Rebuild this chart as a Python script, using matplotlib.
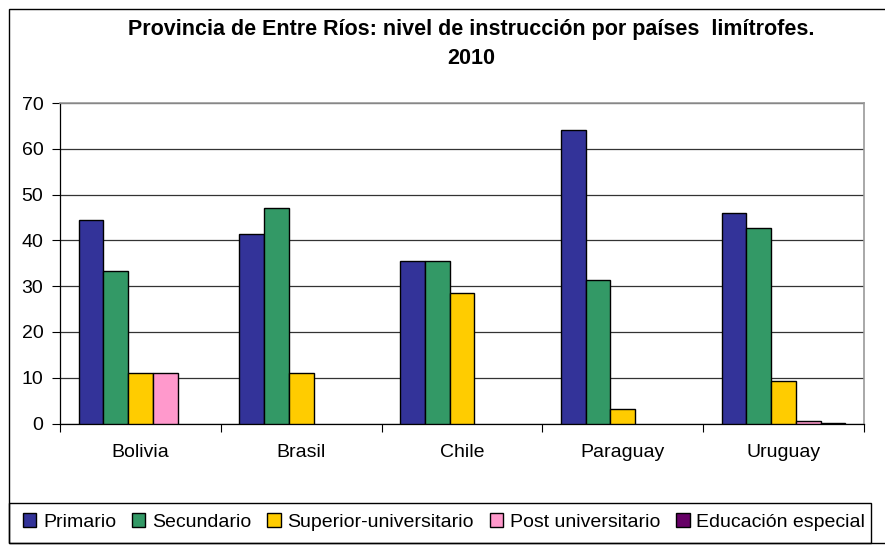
# -*- coding: utf-8 -*-

'''
Entre Ríos - nivel de instrucción por países limítrofes, 2010
'''

import matplotlib.pyplot as plt
from matplotlib.patches import Rectangle
import numpy as np

plt.rcParams['font.family'] = ['Liberation Sans', 'DejaVu Sans']

PAISES = ['Bolivia', 'Brasil', 'Chile', 'Paraguay', 'Uruguay']
NIVELES = ['Primario', 'Secundario', 'Superior-universitario',
           'Post universitario', 'Educación especial']

PRIMARIO = [44.4, 41.4, 35.5, 64.0, 46.0]
SECUNDARIO = [33.2, 47.1, 35.5, 31.4, 42.6]
SUPERIOR = [11.1, 11.1, 28.4, 3.1, 9.2]
POST = [11.1, 0, 0, 0, 0.5]
ESPECIAL = [0, 0, 0, 0, 0.2]

COLORES = ['#333399', '#339966', '#FFCC00', '#FF99CC', '#660066']

W, H = 885, 545


def main():
    '''Gráfico de barras'''
    fig = plt.figure(figsize=(W / 100, H / 100), dpi=100)
    ax = fig.add_axes([60 / W, 1 - 423.5 / H, 804 / W, 320.5 / H])

    series = [PRIMARIO, SECUNDARIO, SUPERIOR, POST, ESPECIAL]
    x = np.arange(len(PAISES))
    ancho = 1 / 6.5
    for i, valores in enumerate(series):
        valores = np.array(valores, dtype=float)
        pos = x + (i - 2) * ancho
        mask = valores > 0
        ax.bar(pos[mask], valores[mask], width=ancho, color=COLORES[i],
               edgecolor='black', linewidth=1.0, zorder=3,
               label=NIVELES[i])

    ax.set_xlim(-0.5, len(PAISES) - 0.5)
    ax.set_ylim(0, 70)
    ax.set_yticks(range(0, 71, 10))
    ax.set_xticks(x)
    ax.set_xticklabels(PAISES)
    ax.set_xticks(np.arange(-0.5, len(PAISES), 1), minor=True)
    ax.tick_params(axis='x', which='major', length=0, pad=15, labelsize=14)
    ax.tick_params(axis='x', which='minor', length=6, direction='out',
                   width=0.8)
    ax.tick_params(axis='y', length=6, width=0.8, pad=6, labelsize=14)
    ax.grid(axis='y', color='#333333', linewidth=0.9, zorder=0)
    ax.set_axisbelow(True)
    for lado in ['top', 'right']:
        ax.spines[lado].set_color('#999999')
        ax.spines[lado].set_linewidth(1.2)
    for lado in ['left', 'bottom']:
        ax.spines[lado].set_color('black')
        ax.spines[lado].set_linewidth(0.9)

    fig.text(471 / W, 1 - 30 / H,
             'Provincia de Entre Ríos: nivel de instrucción por países  limítrofes.',
             ha='center', va='center', fontsize=15.5, fontweight='bold')
    fig.text(471 / W, 1 - 58 / H, '2010', ha='center', va='center',
             fontsize=15.5, fontweight='bold')

    # marco exterior y caja de la leyenda
    fig.patches.append(Rectangle((9 / W, 2 / H), 1.0, 534 / H,
                                 transform=fig.transFigure, fill=False,
                                 edgecolor='black', linewidth=1.0))
    fig.patches.append(Rectangle((9 / W, 2 / H), 862 / W, 40 / H,
                                 transform=fig.transFigure, fill=False,
                                 edgecolor='black', linewidth=1.0))

    fig.legend(loc='center', bbox_to_anchor=(444 / W, 1 - 522 / H),
               ncol=5, frameon=False, fontsize=14, handlelength=0.7,
               handleheight=0.7, handletextpad=0.35, columnspacing=0.8,
               borderaxespad=0)

    fig.savefig('out.png', dpi=100)


if __name__ == '__main__':
    main()
